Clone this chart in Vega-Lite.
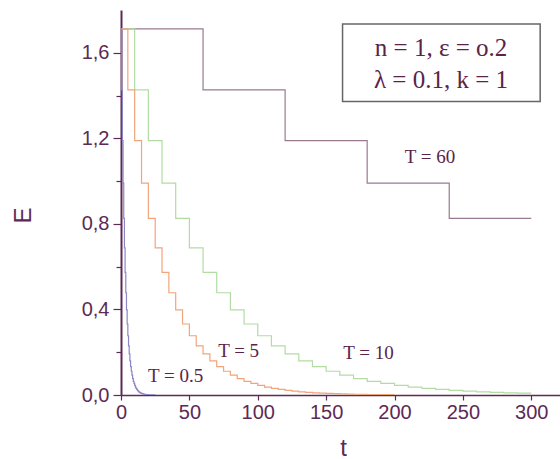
{
  "$schema": "https://vega.github.io/schema/vega-lite/v6.json",
  "width": 439,
  "height": 385,
  "autosize": {"type": "none"},
  "padding": {"left": 121, "top": 10, "right": 0, "bottom": 64},
  "background": "white",
  "config": {"view": {"stroke": null}},
  "datasets": {
    "curves": [
      {"series": "T60", "t": 0, "E": 1.712}, {"series": "T60", "t": 60, "E": 1.427}, {"series": "T60", "t": 120, "E": 1.189}, {"series": "T60", "t": 180, "E": 0.991}, {"series": "T60", "t": 240, "E": 0.826}, {"series": "T60", "t": 300, "E": 0.826},

      {"series": "T10", "t": 0, "E": 1.712}, {"series": "T10", "t": 10, "E": 1.427}, {"series": "T10", "t": 20, "E": 1.189}, {"series": "T10", "t": 30, "E": 0.991}, {"series": "T10", "t": 40, "E": 0.826}, {"series": "T10", "t": 50, "E": 0.688}, {"series": "T10", "t": 60, "E": 0.573}, {"series": "T10", "t": 70, "E": 0.478}, {"series": "T10", "t": 80, "E": 0.398}, {"series": "T10", "t": 90, "E": 0.332}, {"series": "T10", "t": 100, "E": 0.277}, {"series": "T10", "t": 110, "E": 0.230}, {"series": "T10", "t": 120, "E": 0.192}, {"series": "T10", "t": 130, "E": 0.160}, {"series": "T10", "t": 140, "E": 0.133}, {"series": "T10", "t": 150, "E": 0.111}, {"series": "T10", "t": 160, "E": 0.093}, {"series": "T10", "t": 170, "E": 0.077}, {"series": "T10", "t": 180, "E": 0.064}, {"series": "T10", "t": 190, "E": 0.054}, {"series": "T10", "t": 200, "E": 0.045}, {"series": "T10", "t": 210, "E": 0.037}, {"series": "T10", "t": 220, "E": 0.031}, {"series": "T10", "t": 230, "E": 0.026}, {"series": "T10", "t": 240, "E": 0.0215}, {"series": "T10", "t": 250, "E": 0.018}, {"series": "T10", "t": 260, "E": 0.015}, {"series": "T10", "t": 270, "E": 0.0125}, {"series": "T10", "t": 280, "E": 0.0104}, {"series": "T10", "t": 290, "E": 0.0087}, {"series": "T10", "t": 300, "E": 0.0087},

      {"series": "T5", "t": 0, "E": 1.712}, {"series": "T5", "t": 5, "E": 1.427}, {"series": "T5", "t": 10, "E": 1.189}, {"series": "T5", "t": 15, "E": 0.991}, {"series": "T5", "t": 20, "E": 0.826}, {"series": "T5", "t": 25, "E": 0.688}, {"series": "T5", "t": 30, "E": 0.573}, {"series": "T5", "t": 35, "E": 0.478}, {"series": "T5", "t": 40, "E": 0.398}, {"series": "T5", "t": 45, "E": 0.332}, {"series": "T5", "t": 50, "E": 0.277}, {"series": "T5", "t": 55, "E": 0.230}, {"series": "T5", "t": 60, "E": 0.192}, {"series": "T5", "t": 65, "E": 0.160}, {"series": "T5", "t": 70, "E": 0.133}, {"series": "T5", "t": 75, "E": 0.111}, {"series": "T5", "t": 80, "E": 0.093}, {"series": "T5", "t": 85, "E": 0.077}, {"series": "T5", "t": 90, "E": 0.064}, {"series": "T5", "t": 95, "E": 0.054}, {"series": "T5", "t": 100, "E": 0.045}, {"series": "T5", "t": 105, "E": 0.037}, {"series": "T5", "t": 110, "E": 0.031}, {"series": "T5", "t": 115, "E": 0.026}, {"series": "T5", "t": 120, "E": 0.0215}, {"series": "T5", "t": 125, "E": 0.018}, {"series": "T5", "t": 130, "E": 0.015}, {"series": "T5", "t": 135, "E": 0.0125}, {"series": "T5", "t": 140, "E": 0.0104}, {"series": "T5", "t": 145, "E": 0.0087}, {"series": "T5", "t": 150, "E": 0.0072}, {"series": "T5", "t": 155, "E": 0.006}, {"series": "T5", "t": 160, "E": 0.005}, {"series": "T5", "t": 165, "E": 0.0042}, {"series": "T5", "t": 170, "E": 0.0035}, {"series": "T5", "t": 175, "E": 0.0029}, {"series": "T5", "t": 180, "E": 0.0024}, {"series": "T5", "t": 185, "E": 0.002}, {"series": "T5", "t": 190, "E": 0.0017}, {"series": "T5", "t": 195, "E": 0.0014}, {"series": "T5", "t": 200, "E": 0.0014},

      {"series": "T05", "t": 0, "E": 1.712}, {"series": "T05", "t": 0.5, "E": 1.427}, {"series": "T05", "t": 1, "E": 1.189}, {"series": "T05", "t": 1.5, "E": 0.991}, {"series": "T05", "t": 2, "E": 0.826}, {"series": "T05", "t": 2.5, "E": 0.688}, {"series": "T05", "t": 3, "E": 0.573}, {"series": "T05", "t": 3.5, "E": 0.478}, {"series": "T05", "t": 4, "E": 0.398}, {"series": "T05", "t": 4.5, "E": 0.332}, {"series": "T05", "t": 5, "E": 0.277}, {"series": "T05", "t": 5.5, "E": 0.230}, {"series": "T05", "t": 6, "E": 0.192}, {"series": "T05", "t": 6.5, "E": 0.160}, {"series": "T05", "t": 7, "E": 0.133}, {"series": "T05", "t": 7.5, "E": 0.111}, {"series": "T05", "t": 8, "E": 0.093}, {"series": "T05", "t": 8.5, "E": 0.077}, {"series": "T05", "t": 9, "E": 0.064}, {"series": "T05", "t": 9.5, "E": 0.054}, {"series": "T05", "t": 10, "E": 0.045}, {"series": "T05", "t": 10.5, "E": 0.037}, {"series": "T05", "t": 11, "E": 0.031}, {"series": "T05", "t": 11.5, "E": 0.026}, {"series": "T05", "t": 12, "E": 0.0215}, {"series": "T05", "t": 12.5, "E": 0.018}, {"series": "T05", "t": 13, "E": 0.015}, {"series": "T05", "t": 13.5, "E": 0.0125}, {"series": "T05", "t": 14, "E": 0.0104}, {"series": "T05", "t": 14.5, "E": 0.0087}, {"series": "T05", "t": 15, "E": 0.0072}, {"series": "T05", "t": 15.5, "E": 0.006}, {"series": "T05", "t": 16, "E": 0.005}, {"series": "T05", "t": 16.5, "E": 0.0042}, {"series": "T05", "t": 17, "E": 0.0035}, {"series": "T05", "t": 17.5, "E": 0.0029}, {"series": "T05", "t": 18, "E": 0.0024}, {"series": "T05", "t": 19, "E": 0.0017}, {"series": "T05", "t": 20, "E": 0.0012}, {"series": "T05", "t": 25, "E": 0.0012}
    ],
    "labels": [
      {"t": 226, "E": 1.113, "label": "T = 60"},
      {"t": 181, "E": 0.198, "label": "T = 10"},
      {"t": 86, "E": 0.208, "label": "T = 5"},
      {"t": 40, "E": 0.09, "label": "T = 0.5"}
    ],
    "box": [{"t1": 162, "t2": 306.5, "E1": 1.372, "E2": 1.735}],
    "boxtext": [
      {"t": 234, "E": 1.623, "label": "n = 1, ε = o.2"},
      {"t": 234, "E": 1.473, "label": "λ = 0.1, k = 1"}
    ]
  },
  "layer": [
    {
      "data": {"name": "curves"},
      "mark": {"type": "line", "interpolate": "step-after", "strokeWidth": 1.2, "clip": true},
      "encoding": {
        "x": {
          "field": "t", "type": "quantitative",
          "scale": {"domain": [0, 321], "nice": false, "zero": false},
          "axis": {
            "values": [0, 25, 50, 75, 100, 125, 150, 175, 200, 225, 250, 275, 300],
            "labelExpr": "round(datum.value/25) % 2 == 0 ? format(datum.value, 'd') : ''",
            "title": "t",
            "titleFont": "Liberation Sans", "titleFontSize": 24, "titleFontWeight": "normal", "titleColor": "#5c2a55",
            "titleX": 222, "titleY": 53, "titleBaseline": "middle", "titleAlign": "center",
            "labelFont": "Liberation Sans", "labelFontSize": 20, "labelColor": "#5c2a55", "labelPadding": 2,
            "labelFlush": false, "labelOverlap": false,
            "domainColor": "#5c2a55", "domainWidth": 1.5,
            "tickColor": "#5c2a55", "tickWidth": 1.2,
            "tickSize": {"condition": {"test": "round(datum.value/25) % 2 == 0", "value": 5}, "value": 4},
            "grid": false
          }
        },
        "y": {
          "field": "E", "type": "quantitative",
          "scale": {"domain": [0, 1.8], "nice": false},
          "axis": {
            "values": [0, 0.2, 0.4, 0.6, 0.8, 1.0, 1.2, 1.4, 1.6],
            "labelExpr": "round(datum.value*5) % 2 == 0 ? replace(format(datum.value, '.1f'), '.', ',') : ''",
            "title": "E",
            "titleFont": "Liberation Sans", "titleFontSize": 24, "titleFontWeight": "normal", "titleColor": "#5c2a55",
            "titleX": -98, "titleY": 205, "titleAngle": -90, "titleBaseline": "middle", "titleAlign": "center",
            "labelFont": "Liberation Sans", "labelFontSize": 20, "labelColor": "#5c2a55", "labelPadding": 4,
            "labelFlush": false, "labelOverlap": false,
            "domainColor": "#5c2a55", "domainWidth": 2,
            "tickColor": "#5c2a55", "tickWidth": 1.2,
            "tickSize": {"condition": {"test": "round(datum.value*5) % 2 == 0", "value": 8}, "value": 5},
            "grid": false
          }
        },
        "color": {
          "field": "series", "type": "nominal",
          "scale": {"domain": ["T60", "T10", "T5", "T05"], "range": ["#9a7a90", "#b2dca4", "#f2a47a", "#8a86c6"]},
          "legend": null
        }
      }
    },
    {
      "mark": {"type": "rule", "color": "#5c2a55", "strokeWidth": 1.5},
      "encoding": {"y": {"datum": 1.8, "type": "quantitative"}}
    },
    {
      "data": {"name": "box"},
      "mark": {"type": "rect", "fill": null, "fillOpacity": 0, "stroke": "#666666", "strokeWidth": 1.5},
      "encoding": {
        "x": {"field": "t1", "type": "quantitative"},
        "x2": {"field": "t2"},
        "y": {"field": "E1", "type": "quantitative"},
        "y2": {"field": "E2"}
      }
    },
    {
      "data": {"name": "boxtext"},
      "mark": {"type": "text", "font": "Liberation Serif", "fontSize": 25, "color": "#5a2448", "align": "center", "baseline": "middle"},
      "encoding": {
        "x": {"field": "t", "type": "quantitative"},
        "y": {"field": "E", "type": "quantitative"},
        "text": {"field": "label"}
      }
    },
    {
      "data": {"name": "labels"},
      "mark": {"type": "text", "font": "Liberation Serif", "fontSize": 19, "color": "#5a2448", "align": "center", "baseline": "middle"},
      "encoding": {
        "x": {"field": "t", "type": "quantitative"},
        "y": {"field": "E", "type": "quantitative"},
        "text": {"field": "label"}
      }
    }
  ]
}
